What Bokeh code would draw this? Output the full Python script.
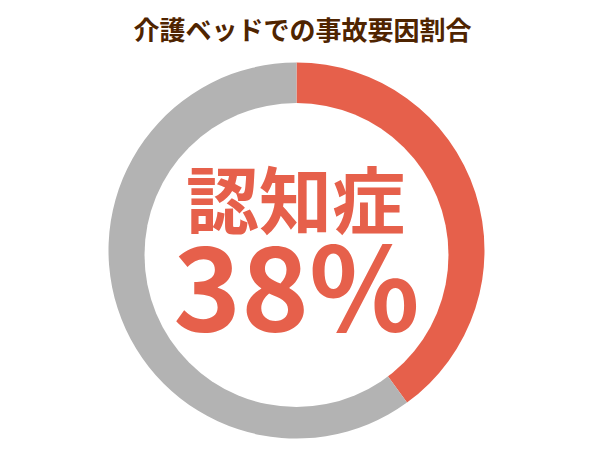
from math import pi

from bokeh.core.properties import value
from bokeh.embed import file_html
from bokeh.models import ColumnDataSource, Range1d
from bokeh.plotting import figure
from bokeh.resources import INLINE

# data
title = "介護ベッドでの事故要因割合"
categories = ["認知症", "その他"]
shares = [40, 60]
colors = ["#E6604B", "#B3B3B3"]
label_name = "認知症"
label_value = "38%"

# angles, clockwise from the top
total = sum(shares)
starts, ends = [], []
acc = 0
for s in shares:
    starts.append(pi / 2 - acc / total * 2 * pi)
    acc += s
    ends.append(pi / 2 - acc / total * 2 * pi)

src = ColumnDataSource(dict(cat=categories, share=shares, color=colors,
                            start=starts, end=ends))

W, H = 592, 442
p = figure(width=W, height=H, output_backend="svg", toolbar_location=None,
           x_range=Range1d(0, W), y_range=Range1d(0, H), min_border=0)
p.axis.visible = False
p.grid.visible = False
p.outline_line_color = None
p.background_fill_color = "white"

cx, cy = 296, 192

p.wedge(x=cx, y=cy, radius=188, start_angle="start", end_angle="end",
        direction="clock", fill_color="color", line_color=None, source=src)
# hole of the ring
p.circle(x=[cx], y=[cy - 4.5], radius=152, fill_color="white", line_color=None)

font = value("Noto Sans CJK JP")
p.text(x=[302], y=[414], text=[title], text_font=font, text_font_size="26px",
       text_font_style="bold", text_color="#4F2400",
       text_align="center", text_baseline="middle")
p.text(x=[295], y=[247], text=[label_name], text_font=font, text_font_size="73px",
       text_font_style="bold", text_color=colors[0],
       text_align="center", text_baseline="middle")
p.text(x=[296], y=[162], text=[label_value], text_font=font, text_font_size="115px",
       text_font_style="bold", text_color=colors[0],
       text_align="center", text_baseline="middle")

open("out.html", "w").write(file_html(p, INLINE))
